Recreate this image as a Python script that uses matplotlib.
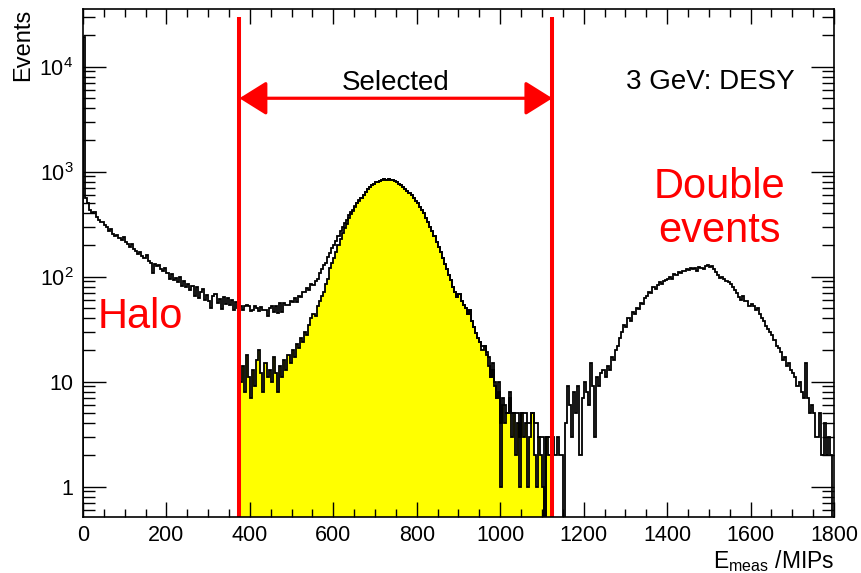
import numpy as np
import matplotlib.pyplot as plt
from matplotlib.ticker import FixedLocator, LogLocator, MultipleLocator, FuncFormatter

plt.rcParams['font.family'] = ['Liberation Sans', 'DejaVu Sans']
plt.rcParams['mathtext.fontset'] = 'custom'
plt.rcParams['mathtext.rm'] = 'Liberation Sans'
plt.rcParams['mathtext.it'] = 'Liberation Sans:italic'
plt.rcParams['mathtext.bf'] = 'Liberation Sans:bold'

# Binning (MIPs)
bin_width = 5
x_min, x_max = 0, 1800
cut_low, cut_high = 375, 1125

# Halo + double events (everything not selected), one row = 50 MIPs
background = [
    19000, 560, 500, 430, 400, 410, 370, 345, 330, 335,
    310, 300, 275, 285, 255, 245, 250, 232, 222, 236,
    214, 205, 190, 206, 182, 176, 166, 172, 156, 150,
    160, 142, 136, 108, 132, 126, 128, 119, 114, 120,
    108, 96, 106, 92, 97, 88, 99, 82, 91, 80,
    86, 74, 81, 66, 79, 62, 72, 76, 60, 67,
    58, 50, 66, 69, 56, 61, 49, 64, 55, 62,
    54, 60, 48, 57, 50, 42, 34, 45, 36, 41,
    40, 35, 43, 34, 27, 39, 40, 33, 31, 37,
    42, 29, 40, 37, 42, 35, 40, 41, 36, 43,
    37, 46, 34, 45, 38, 47, 41, 50, 39, 45,
    40, 48, 42, 50, 52, 57, 50, 60, 48, 52,
    50, 48, 45, 40, 40, 35, 30, 25, 15, 10,
    6, 4, 3, 2, 1, 0, 0, 0, 0, 0,
    0, 0, 0, 0, 0, 0, 0, 0, 0, 0,
    0, 0, 0, 0, 0, 0, 0, 0, 0, 0,
    0, 0, 0, 0, 0, 0, 0, 0, 0, 0,
    0, 0, 0, 0, 0, 0, 0, 0, 0, 0,
    0, 0, 0, 0, 0, 0, 0, 0, 0, 0,
    0, 2, 0, 1, 3, 0, 2, 1, 0, 2,
    3, 1, 2, 0, 1, 2, 0, 3, 1, 2,
    0, 2, 1, 3, 1, 0, 2, 3, 0, 1,
    2, 0, 0, 1, 1, 3, 2, 3, 2, 2,
    0, 4, 9, 6, 3, 8, 5, 9, 2, 7,
    10, 8, 6, 15, 9, 3, 11, 9, 12, 13,
    11, 14, 13, 17, 16, 20, 22, 26, 30, 35,
    33, 40, 38, 46, 44, 50, 49, 56, 55, 62,
    66, 72, 70, 79, 76, 83, 88, 85, 90, 92,
    95, 100, 96, 105, 103, 110, 108, 114, 112, 118,
    115, 120, 118, 122, 112, 124, 120, 118, 126, 130,
    124, 127, 118, 110, 104, 98, 100, 94, 90, 88,
    86, 80, 74, 70, 64, 60, 66, 58, 59, 52,
    55, 52, 48, 50, 44, 40, 38, 34, 32, 30,
    28, 25, 22, 21, 19, 16, 17, 14, 15, 13,
    12, 11, 9, 10, 8, 7, 15, 7, 5, 6,
    5, 3, 3, 5, 2, 4, 2, 3, 2, 0,
]

# Selected events, bins from 375 to 1125 MIPs
selected = [
    10, 14, 8, 18, 11,
    7, 13, 9, 16, 20, 12, 8, 15, 11, 13,
    10, 17, 12, 8, 14, 11, 16, 13, 18, 15,
    20, 17, 23, 21, 26, 24, 30, 28, 35, 40,
    44, 42, 52, 59, 65, 72, 86, 95, 120, 135,
    150, 170, 200, 230, 260, 290, 320, 360, 395, 425,
    460, 500, 530, 565, 600, 640, 680, 715, 740, 770,
    790, 805, 820, 835, 845, 830, 850, 840, 825, 810,
    795, 770, 750, 720, 690, 660, 630, 600, 565, 530,
    500, 465, 430, 400, 365, 335, 300, 270, 245, 215,
    190, 170, 150, 132, 118, 104, 92, 80, 72, 64,
    69, 58, 54, 50, 44, 48, 38, 33, 29, 26,
    24, 20, 22, 18, 14, 11, 13, 9, 7, 8,
    1, 6, 4, 5, 7, 3, 5, 2, 4, 1,
    5, 3, 4, 1, 3, 5, 2, 1, 3, 2,
    1, 0, 3, 2, 2,
]

edges = np.arange(x_min, x_max + bin_width, bin_width)
i0 = cut_low // bin_width
sel_full = np.zeros(len(edges) - 1)
sel_full[i0:i0 + len(selected)] = selected
total = np.array(background, dtype=float) + sel_full

# empty bins drawn down past the axis bottom, like ROOT does
floor = 1e-3
total_draw = np.where(total > 0, total, floor)
sel = np.array(selected, dtype=float)
sel_draw = np.where(sel > 0, sel, floor)
sel_edges = edges[i0:i0 + len(selected) + 1]

fig = plt.figure(figsize=(8.61, 5.73), dpi=100)
ax = fig.add_axes([0.0964, 0.0977, 0.8722, 0.8866])

ax.stairs(sel_draw, sel_edges, fill=True, color='#ffff00', baseline=floor)
ax.stairs(sel_draw, sel_edges, color='black', lw=1.3, baseline=floor)
ax.stairs(total_draw, edges, color='black', lw=1.3, baseline=floor)

ax.set_yscale('log')
ax.set_xlim(x_min, x_max)
ax.set_ylim(0.514, 35400)

# cut lines and arrow
for xc in (cut_low, cut_high):
    ax.plot([xc, xc], [0.514, 30000], color='#ff0000', lw=2.9, solid_capstyle='butt')
ax.annotate('', xy=(cut_high, 5000), xytext=(cut_low, 5000),
            arrowprops=dict(arrowstyle='<|-|>,head_length=1.2,head_width=0.75',
                            color='#ff0000', lw=2.3, mutation_scale=14,
                            shrinkA=0, shrinkB=0))
ax.text(750, 7000, 'Selected', ha='center', va='center', fontsize=20)
ax.text(1706, 7070, '3 GeV: DESY', ha='right', va='center', fontsize=20)
ax.text(1526, 441, 'Double\nevents', ha='center', va='center', fontsize=30,
        color='#ff0000', linespacing=1.15)
ax.text(34, 41, 'Halo', ha='left', va='center', fontsize=30, color='#ff0000')

# ROOT style axes
ax.xaxis.set_major_locator(MultipleLocator(200))
ax.xaxis.set_minor_locator(MultipleLocator(50))
ax.yaxis.set_major_locator(FixedLocator([1, 10, 100, 1000, 10000]))
ax.yaxis.set_minor_locator(LogLocator(base=10, subs=np.arange(2, 10)))
ax.yaxis.set_minor_formatter(FuncFormatter(lambda v, p: ''))
ax.yaxis.set_major_formatter(FuncFormatter(
    lambda v, p: '%d' % v if v < 100 else r'$\mathregular{10^{%d}}$' % round(np.log10(v))))

ax.tick_params(which='both', direction='in', top=True, right=True, labelsize=15.5, width=1)
ax.tick_params(axis='x', which='major', length=11, pad=6)
ax.tick_params(axis='x', which='minor', length=5.5)
ax.tick_params(axis='y', which='major', length=16.5, pad=7)
ax.tick_params(axis='y', which='minor', length=8.5)
for s in ax.spines.values():
    s.set_linewidth(1.2)

ax.set_ylabel('Events', loc='top', fontsize=17, labelpad=4)
ax.set_xlabel(r'E$_{\mathregular{meas}}$ /MIPs', loc='right', fontsize=16.5, labelpad=1)

plt.savefig('out.png', dpi=100)
